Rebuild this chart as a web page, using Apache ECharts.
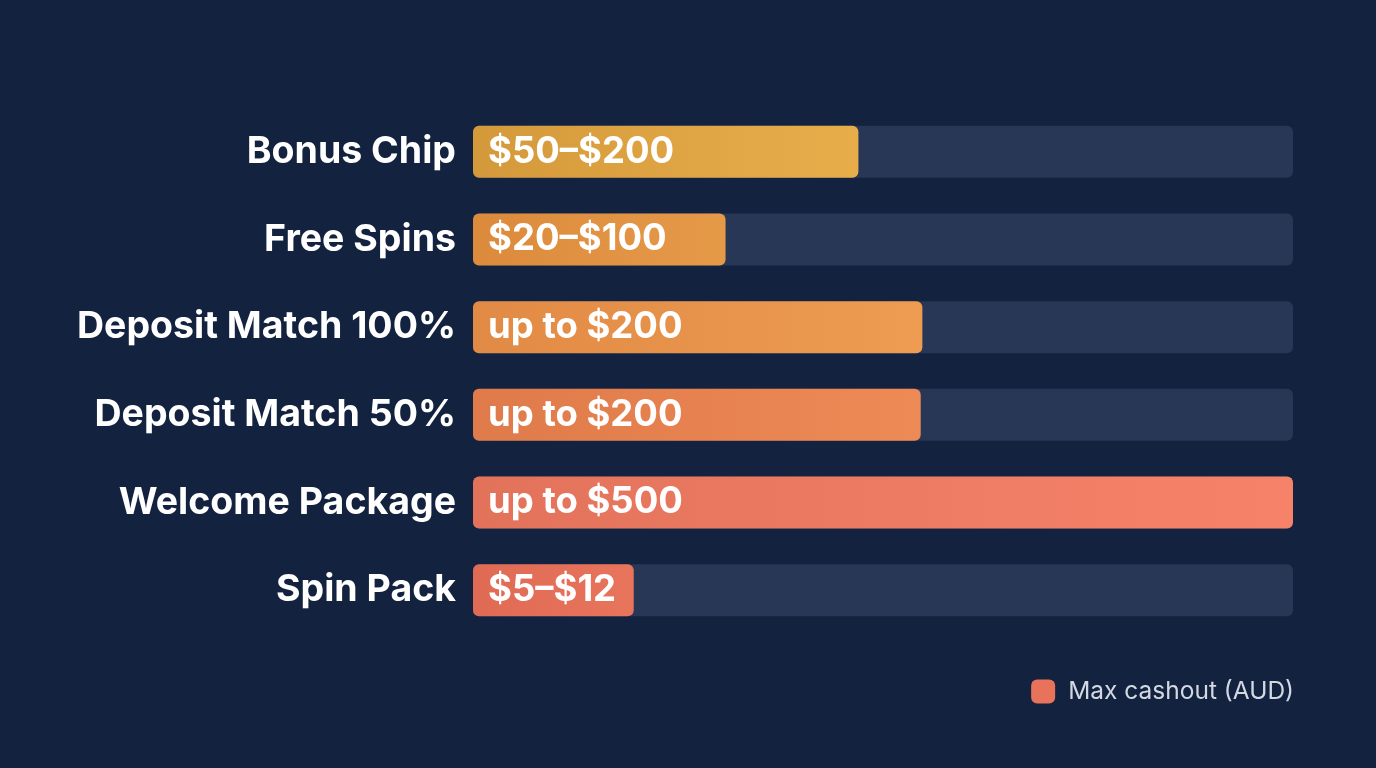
<!DOCTYPE html>
<html>
<head>
<meta charset="utf-8">
<script src="https://cdn.jsdelivr.net/npm/echarts@6/dist/echarts.min.js"></script>
<style>
html,body{margin:0;padding:0;background:#13223f;}
#c{width:1376px;height:768px;}
</style>
</head>
<body>
<div id="c"></div>
<script>
const categories = ["Bonus Chip","Free Spins","Deposit Match 100%","Deposit Match 50%","Welcome Package","Spin Pack"];
const barValues = [235, 154, 274, 273, 500, 98];
const valueLabels = ["$50–$200","$20–$100","up to $200","up to $200","up to $500","$5–$12"];
const seriesName = "Max cashout (AUD)";
const barColorsLeft = ["#d4993a","#dc8a3c","#e18a45","#df7a4a","#e2735a","#e06b55"];
const barColorsRight = ["#e8ad4b","#e59a48","#ee9c52","#ee8a56","#f7826a","#e8745c"];

const chart = echarts.init(document.getElementById('c'));
const font = 'Inter, Roboto, sans-serif';
chart.setOption({
  backgroundColor: '#13223f',
  animation: false,
  grid: {left: 473, right: 83, top: 108, bottom: 134},
  legend: {
    data: [seriesName],
    right: 77, top: 674,
    icon: 'roundRect',
    itemWidth: 24, itemHeight: 24,
    textStyle: {color: '#d3d9e3', fontSize: 24.5, fontFamily: font, padding: [0, 0, 0, 8]}
  },
  xAxis: {type: 'value', min: 0, max: 500, show: false},
  yAxis: {
    type: 'category', data: categories, inverse: true,
    axisLine: {show: false}, axisTick: {show: false}, splitLine: {show: false},
    axisLabel: {color: '#ffffff', fontSize: 37.5, fontWeight: 700, fontFamily: font, margin: 17}
  },
  series: [{
    name: seriesName,
    type: 'bar',
    barWidth: 52,
    itemStyle: {color: '#e8735a', borderRadius: 6},
    showBackground: true,
    backgroundStyle: {color: '#283756', borderRadius: 6},
    data: barValues.map((v, i) => ({
      value: v,
      itemStyle: {color: new echarts.graphic.LinearGradient(0,0,1,0,[
        {offset: 0, color: barColorsLeft[i]}, {offset: 1, color: barColorsRight[i]}])}
    })),
    label: {
      show: true, position: 'insideLeft', distance: 15,
      color: '#ffffff', fontSize: 36.5, fontWeight: 700, fontFamily: font,
      formatter: p => valueLabels[p.dataIndex]
    }
  }]
});
</script>
</body>
</html>
